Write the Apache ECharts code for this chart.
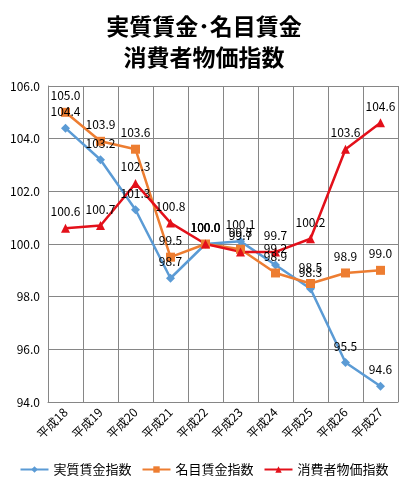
<!DOCTYPE html>
<html>
<head>
<meta charset="utf-8">
<script src="https://cdn.jsdelivr.net/npm/echarts@6/dist/echarts.min.js"></script>
<style>
html, body { margin: 0; padding: 0; background: #fff; }
#box { width: 408px; height: 488px; }
</style>
</head>
<body>
<div id="box"></div>
<script>
var years = ['平成18', '平成19', '平成20', '平成21', '平成22', '平成23', '平成24', '平成25', '平成26', '平成27']
var realWage = [104.4, 103.2, 101.3, 98.7, 100.0, 100.1, 99.2, 98.3, 95.5, 94.6]
var nominalWage = [105.0, 103.9, 103.6, 99.5, 100.0, 99.8, 98.9, 98.5, 98.9, 99.0]
var cpi = [100.6, 100.7, 102.3, 100.8, 100.0, 99.7, 99.7, 100.2, 103.6, 104.6]

var font = '"Noto Sans CJK JP", sans-serif'

function lineSeries(name, data, color, symbol, size) {
    return {
        name: name,
        type: 'line',
        data: data,
        symbol: symbol,
        symbolSize: size,
        lineStyle: { color: color, width: 2.5 },
        itemStyle: { color: color },
        label: {
            show: true,
            position: 'top',
            distance: 6,
            fontSize: 12,
            fontFamily: font,
            color: '#000',
            formatter: function (p) { return p.value.toFixed(1) }
        }
    }
}

var chart = echarts.init(document.getElementById('box'))

chart.setOption({
    animation: false,
    title: {
        text: '実質賃金･名目賃金\n消費者物価指数',
        left: 'center',
        top: 6,
        textStyle: {
            fontFamily: font,
            fontSize: 23,
            fontWeight: 'bold',
            color: '#000',
            lineHeight: 31
        }
    },
    legend: {
        bottom: 7,
        left: 'center',
        itemWidth: 28,
        itemHeight: 8,
        itemGap: 10,
        textStyle: { fontFamily: font, fontSize: 13, color: '#000' },
        data: ['実質賃金指数', '名目賃金指数', '消費者物価指数']
    },
    grid: {
        left: 48,
        right: 10,
        top: 86,
        bottom: 86
    },
    xAxis: {
        type: 'category',
        data: years,
        boundaryGap: true,
        axisLine: { lineStyle: { color: '#868686' } },
        axisTick: { show: false },
        axisLabel: {
            rotate: 45,
            interval: 0,
            fontSize: 12,
            fontFamily: font,
            color: '#000',
            margin: 8
        },
        splitLine: { show: true, interval: 0, lineStyle: { color: '#868686', width: 1 } }
    },
    yAxis: {
        type: 'value',
        min: 94,
        max: 106,
        interval: 2,
        axisLine: { show: true, lineStyle: { color: '#868686' } },
        axisTick: { show: false },
        axisLabel: {
            fontSize: 12,
            fontFamily: font,
            color: '#000',
            margin: 8,
            formatter: function (v) { return v.toFixed(1) }
        },
        splitLine: { lineStyle: { color: '#868686', width: 1 } }
    },
    series: [
        lineSeries('実質賃金指数', realWage, '#5B9BD5', 'diamond', 9),
        lineSeries('名目賃金指数', nominalWage, '#ED7D31', 'rect', 9),
        lineSeries('消費者物価指数', cpi, '#E3101A', 'triangle', 9)
    ]
})
</script>
</body>
</html>
